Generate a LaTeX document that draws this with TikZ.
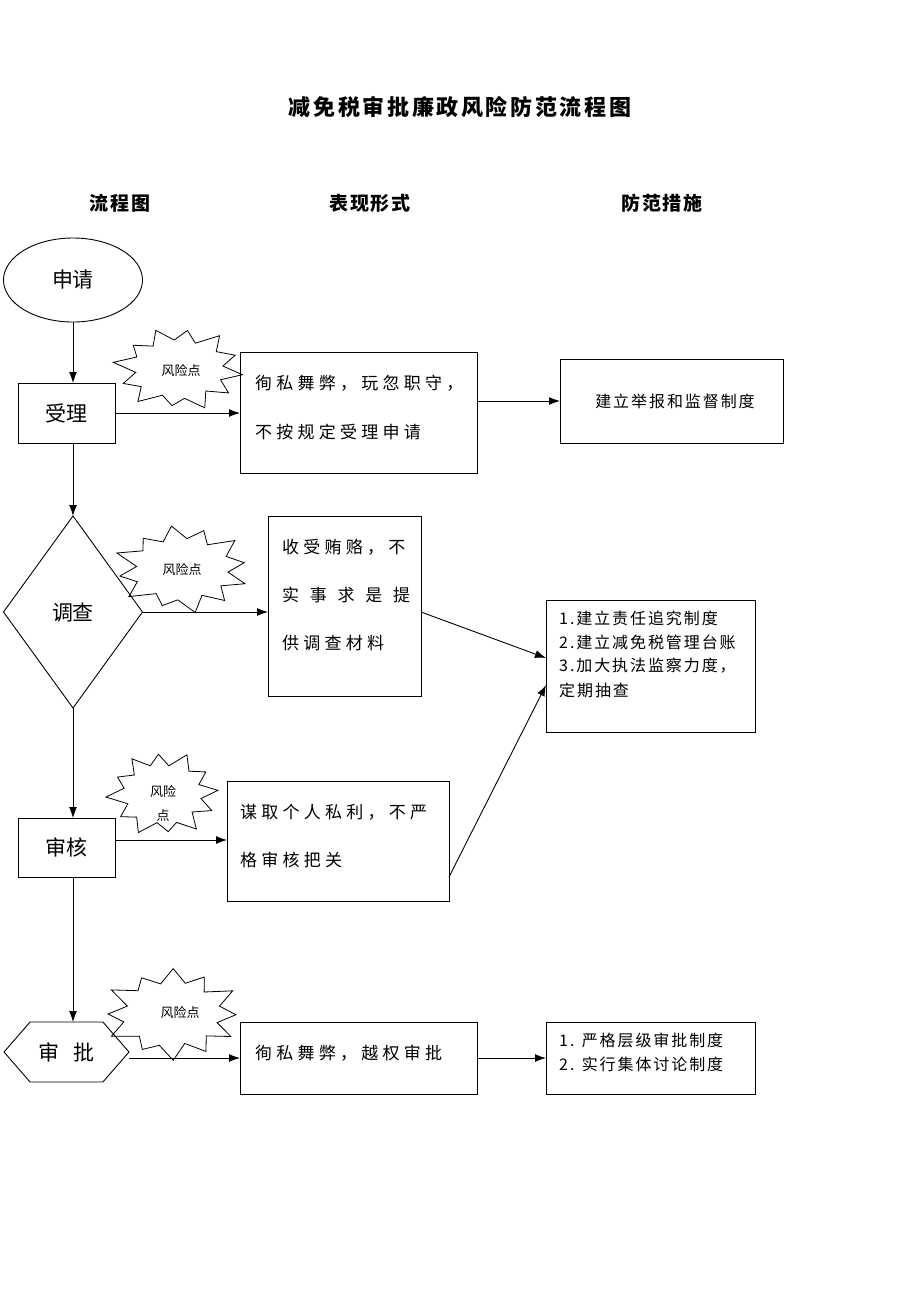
\documentclass[tikz,border=0pt]{standalone}
\usepackage{fontspec}
\setmainfont{Noto Sans CJK SC}
\newfontfamily\cjkwide[LetterSpace=25]{Noto Sans CJK SC}
\newfontfamily\cjkmid[LetterSpace=12]{Noto Sans CJK SC}
\newfontfamily\cjktitle[LetterSpace=10]{Noto Sans CJK SC}
\newfontfamily\cjkbig[LetterSpace=12]{Noto Sans CJK SC}
\usetikzlibrary{shapes.symbols,shapes.geometric,arrows.meta}
\tikzset{
  box/.style={draw, line width=0.9pt, inner sep=0pt, outer sep=0pt},
  arr/.style={-{Latex[length=11pt,width=8pt]}, line width=0.9pt},
  flowtxt/.style={font=\fontsize{21}{21}\selectfont},
  midtxt/.style={anchor=west, inner sep=0pt, font=\cjkwide\fontsize{17}{17}\selectfont},
  righttxt/.style={anchor=west, inner sep=0pt, font=\cjkmid\fontsize{16}{16}\selectfont},
  bursttxt/.style={inner sep=0pt, font=\fontsize{13}{24}\selectfont, align=center},
  head/.style={font=\cjktitle\bfseries\fontsize{19}{19}\selectfont}
}
% #1 cx, #2 cy, #3 rx, #4 ry, #5 rotation
\newcommand\riskburst[5]{%
  \draw[line width=0.8pt, line join=miter] ({#1+#3*cos(#5)},{#2+#4*sin(#5)})
    \foreach \a/\f in {14/0.70, 29/0.97, 44/0.68, 59/1.03, 75/0.72, 89/0.90, 104/0.69,
       121/1.02, 136/0.73, 150/0.94, 165/0.68, 181/1.04, 196/0.72, 211/0.92, 226/0.69,
       241/1.01, 256/0.71, 270/0.95, 284/0.68, 300/1.03, 316/0.72, 331/0.94, 346/0.69}
    { -- ({#1+#3*\f*cos(\a+#5)},{#2+#4*\f*sin(\a+#5)}) } -- cycle;}
\begin{document}
\begin{tikzpicture}[x=1pt,y=-1pt]
\useasboundingbox (0,0) rectangle (920,1302);

% title and headers
\node[font=\cjkbig\bfseries\fontsize{22}{22}\selectfont] (title) at (460,107) {减免税审批廉政风险防范流程图};
\node[head] (h1) at (120,203) {流程图};
\node[head] (h2) at (370,203) {表现形式};
\node[head] (h3) at (662,203) {防范措施};

% risk-point bursts
\riskburst{179}{369}{64}{41}{8}
\node[bursttxt] (s1) at (181,371) {风险点};
\riskburst{182}{569}{67}{43}{20}
\node[bursttxt] (s2) at (182,570) {风险点};
\riskburst{163}{794}{55}{42}{-5}
\node[bursttxt] (s3) at (163,803) {风险\\点};
\riskburst{172}{1014}{68}{45}{30}
\node[bursttxt] (s4) at (180,1013) {风险点};

% flow column
\node[ellipse, box, minimum width=139pt, minimum height=84pt, flowtxt] (apply) at (73,280) {申请};
\node[box, minimum width=97pt, minimum height=60pt, flowtxt] (acc) at (66.5,413) {受理};
\node[diamond, box, minimum width=139pt, minimum height=192pt, flowtxt] (inv) at (73,612) {调查};
\node[box, minimum width=97pt, minimum height=59pt, flowtxt] (rev) at (66.5,847.5) {审核};
\node[signal, signal to=east and west, signal pointer angle=98, box, minimum width=125pt, minimum height=60pt, flowtxt] (appr) at (66.5,1052) {审\hspace{15pt}批};

% middle boxes
\node[box, minimum width=237pt, minimum height=121pt] (b1) at (358.5,412.5) {};
\node[midtxt] (b1a) at (255,383) {徇私舞弊，玩忽职守，};
\node[midtxt] (b1b) at (255,432) {不按规定受理申请};

\node[box, minimum width=153pt, minimum height=180pt] (b2) at (344.5,606) {};
\node[midtxt] (b2a) at (282,547) {收受贿赂，不};
\node[midtxt, font=\fontsize{17}{17}\selectfont] (b2b) at (282,595) {\makebox[128pt][s]{实\hfill 事\hfill 求\hfill 是\hfill 提}};
\node[midtxt] (b2c) at (282,643) {供调查材料};

\node[box, minimum width=222pt, minimum height=120pt] (b3) at (338,841) {};
\node[midtxt] (b3a) at (240,812) {谋取个人私利，不严};
\node[midtxt] (b3b) at (240,860) {格审核把关};

\node[box, minimum width=237pt, minimum height=72pt] (b4) at (358.5,1058) {};
\node[midtxt] (b4a) at (255,1053) {徇私舞弊，越权审批};

% right boxes
\node[box, minimum width=223pt, minimum height=84pt] (r1) at (671.5,401) {};
\node[font=\cjkmid\fontsize{16}{16}\selectfont, inner sep=0pt] (r1a) at (675,401) {建立举报和监督制度};

\node[box, minimum width=209pt, minimum height=132pt] (r2) at (650.5,666) {};
\node[righttxt] (r2a) at (559,618) {1.建立责任追究制度};
\node[righttxt] (r2b) at (559,642) {2.建立减免税管理台账};
\node[righttxt] (r2c) at (559,666) {3.加大执法监察力度，};
\node[righttxt] (r2d) at (559,690) {定期抽查};

\node[box, minimum width=209pt, minimum height=72pt] (r3) at (650.5,1058) {};
\node[righttxt] (r3a) at (559,1040) {1. 严格层级审批制度};
\node[righttxt] (r3b) at (559,1064) {2. 实行集体讨论制度};

% vertical flow arrows
\draw[arr] (apply.south) -- (acc.north -| apply.south);
\draw[arr] (acc.south -| apply.south) -- (inv.north);
\draw[arr] (inv.south) -- (rev.north -| inv.south);
\draw[arr] (rev.south -| inv.south) -- (appr.north -| inv.south);

% horizontal arrows
\draw[arr] (acc.east) -- (acc.east -| b1.west);
\draw[arr] (r1.west -| b1.east) -- (r1.west);
\draw[arr] (inv.east) -- (inv.east -| b2.west);
\draw[arr] ([yshift=-6pt]b2.east) -- ([yshift=8pt]r2.west);
\draw[arr] (rev.east |- 0,840) -- (b3.west |- 0,840);
\draw[arr] ([yshift=-36pt]b3.east) -- ([yshift=-19pt]r2.west);
\draw[arr] (appr.east |- 0,1058) -- (b4.west |- 0,1058);
\draw[arr] (b4.east) -- (r3.west);
\end{tikzpicture}
\end{document}
